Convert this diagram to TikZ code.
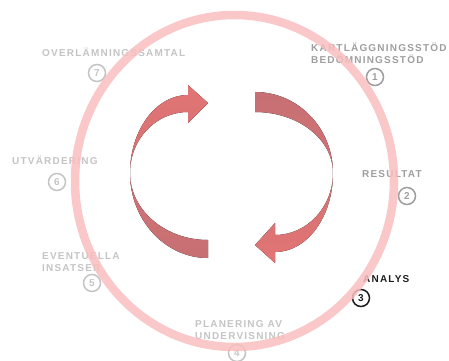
\documentclass[tikz,border=0pt]{standalone}
\usepackage{fontspec}
\newfontfamily\lblfont[LetterSpace=12]{Liberation Sans}
\newfontfamily\numfont{Liberation Sans}
\usetikzlibrary{positioning}

\definecolor{ringpink}{RGB}{249,190,190}
\definecolor{softgray}{RGB}{196,196,196}
\definecolor{midgray}{RGB}{158,158,158}
\definecolor{nearblack}{RGB}{30,30,30}
\definecolor{arrowred}{RGB}{226,116,116}
\definecolor{arrowmauve}{RGB}{198,112,116}

\newcommand{\stacked}[2]{\begin{tabular}[t]{@{}l@{}}#1\\#2\end{tabular}}

\tikzset{
	lbl/.style={anchor=base west, inner sep=0pt, font=\lblfont\bfseries\fontsize{10}{12}\selectfont},
	numdot/.style={circle, draw, line width=1.5pt, minimum size=17pt, inner sep=0pt, font=\numfont\bfseries\fontsize{10}{10}\selectfont},
}

\begin{document}
\begin{tikzpicture}[x=1pt, y=-1pt]

	\useasboundingbox (0, 0) rectangle (449, 360);

	% labels
	\node [lbl, softgray]		(ovl)		at (42, 56)		{OVERLÄMNINGSSAMTAL};
	\node [lbl, midgray]		(kart)	at (311, 51)	{\stacked{KARTLÄGGNINGSSTÖD}{BEDÖMNINGSSTÖD}};
	\node [lbl, midgray]		(res)		at (362, 177)	{RESULTAT};
	\node [lbl, nearblack]	(ana)		at (363, 282)	{ANALYS};
	\node [lbl, softgray]		(plan)	at (195, 327)	{\stacked{PLANERING AV}{UNDERVISNING}};
	\node [lbl, softgray]		(even)	at (42, 259)	{\stacked{EVENTUELLA}{INSATSER}};
	\node [lbl, softgray]		(utv)		at (12, 164)	{UTVÄRDERING};

	% step numbers
	\node [numdot, midgray]		(n1) at (375, 77)		{1};
	\node [numdot, midgray]		(n2) at (407, 196)	{2};
	\node [numdot, nearblack]	(n3) at (361, 298)	{3};
	\node [numdot, softgray]	(n4) at (237, 353)	{4};
	\node [numdot, softgray]	(n5) at (92, 283)		{5};
	\node [numdot, softgray]	(n6) at (57, 182)		{6};
	\node [numdot, softgray]	(n7) at (97, 73)		{7};

	% outer ring
	\draw [ringpink, line width=8.5pt, opacity=.85] (234.5, 181) ellipse [x radius=159.5, y radius=166];

	% the two curved arrows
	\fill [top color=arrowred, bottom color=arrowmauve]
		(208, 258) .. controls (165, 258) and (130, 220) .. (130, 173)
		.. controls (130, 130) and (156, 95) .. (188, 95)
		-- (188, 85) -- (208, 103) -- (188, 123) -- (188, 112)
		.. controls (156, 112) and (130, 139) .. (130, 173)
		.. controls (130, 210) and (165, 240) .. (208, 240) -- cycle;
	\fill [top color=arrowmauve, bottom color=arrowred]
		(255, 92) .. controls (298, 92) and (333, 128) .. (333, 173)
		.. controls (333, 217) and (307, 252) .. (275, 252)
		-- (275, 263) -- (255, 245) -- (275, 223) -- (275, 235)
		.. controls (307, 235) and (333, 207) .. (333, 173)
		.. controls (333, 139) and (298, 112) .. (255, 112) -- cycle;

\end{tikzpicture}
\end{document}
